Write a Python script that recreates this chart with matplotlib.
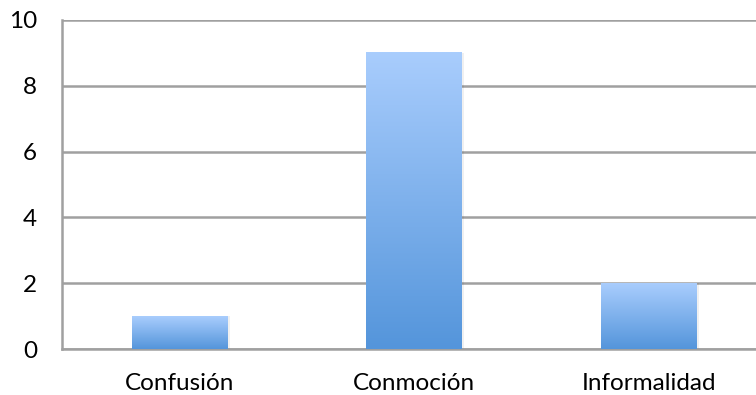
import matplotlib.pyplot as plt
import numpy as np
from matplotlib.colors import LinearSegmentedColormap

categories = ['Confusión', 'Conmoción', 'Informalidad']
values = [1, 9, 2]
yticks = [0, 2, 4, 6, 8, 10]

plt.rcParams['font.family'] = ['Lato', 'DejaVu Sans']

fig = plt.figure(figsize=(7.56, 3.95), dpi=100)
# plot area runs past the right edge of the picture, as in the original
ax = fig.add_axes([62 / 756, 1 - 349 / 395, 704 / 756, 329 / 395])

x = np.arange(len(categories))
width = 0.405
bars = ax.bar(x, values, width=width, color='none', zorder=3)

cmap = LinearSegmentedColormap.from_list('bar', ['#5495DB', '#A9CDFD'])
grad = np.linspace(0, 1, 256).reshape(-1, 1)
for b in bars:
    x0, h, w = b.get_x(), b.get_height(), b.get_width()
    # faint shadow on the right
    ax.bar(x0 + w / 2 + 0.012, h, width=w, color='#000000', alpha=0.06,
           zorder=2, align='center')
    ax.imshow(grad, extent=(x0, x0 + w, 0, h), origin='lower', cmap=cmap,
              aspect='auto', zorder=4)

ax.set_xlim(-0.5, len(categories) - 0.5)
ax.set_ylim(0, 10)
ax.set_yticks(yticks)
ax.set_xticks(x)
ax.set_xticklabels(categories, fontsize=17.5)
ax.tick_params(axis='y', labelsize=17.5, length=0, pad=18)
ax.tick_params(axis='x', length=0, pad=17)
ax.yaxis.grid(True, color='#A0A0A0', linewidth=1.8, zorder=1)
ax.set_axisbelow(True)
for s in ['top', 'right']:
    ax.spines[s].set_visible(False)
for s in ['left', 'bottom']:
    ax.spines[s].set_color('#A0A0A0')
    ax.spines[s].set_linewidth(1.8)

fig.savefig('out.png', dpi=100)
